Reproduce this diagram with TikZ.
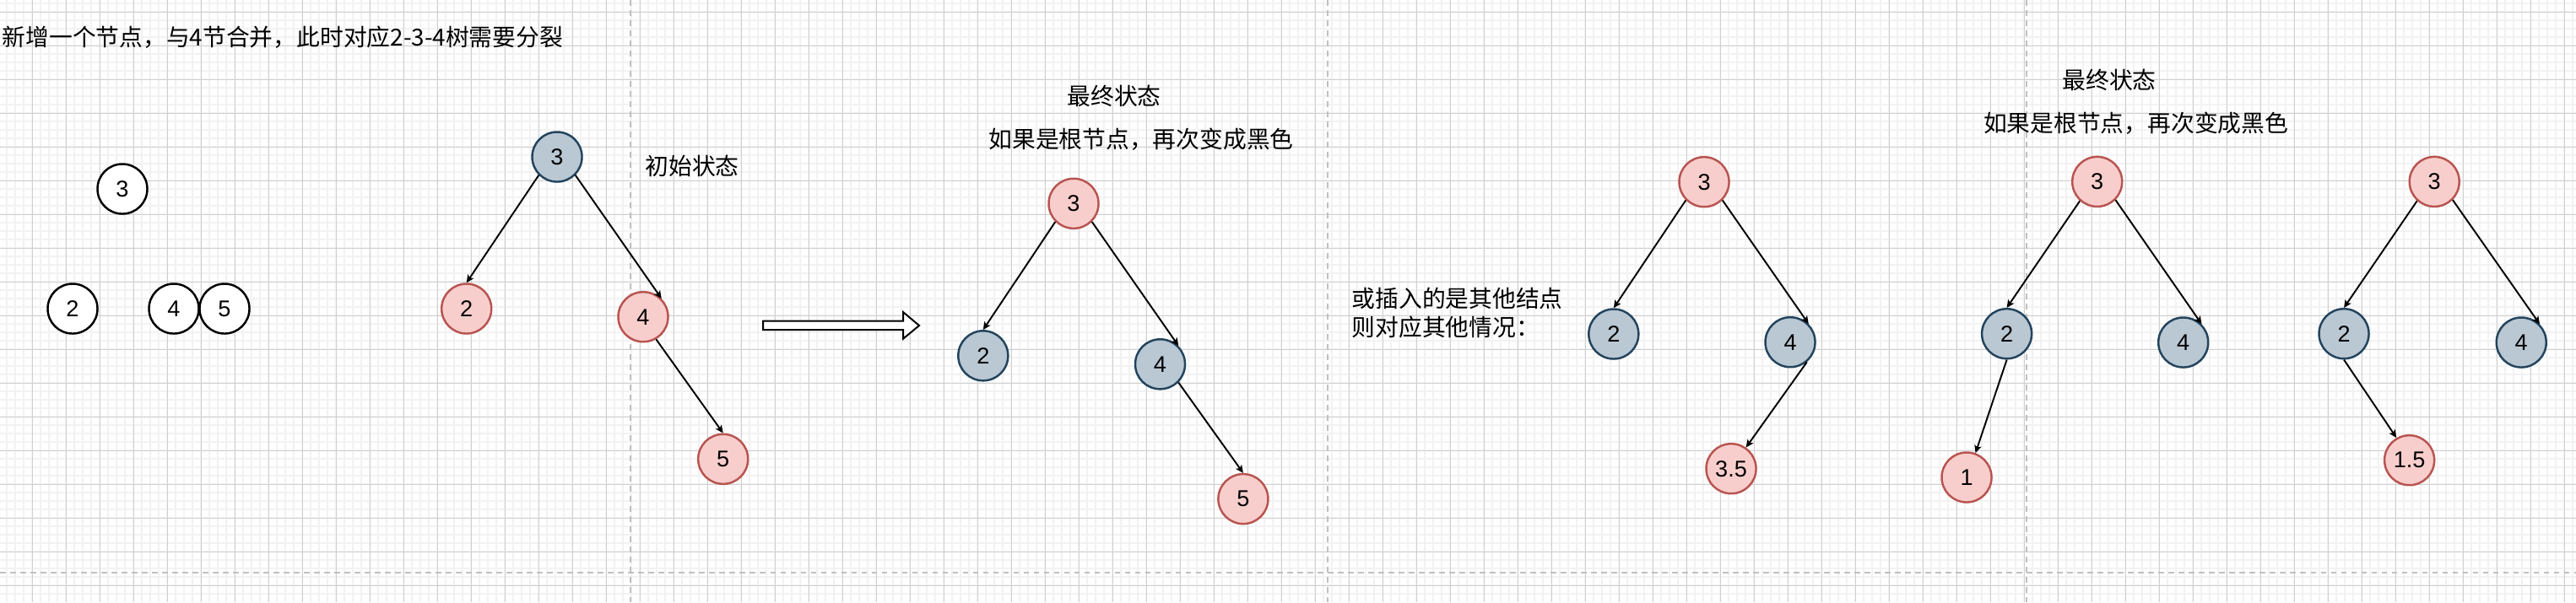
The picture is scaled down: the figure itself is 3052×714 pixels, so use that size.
\documentclass[tikz,border=0pt]{standalone}
\usepackage{fontspec}
\setmainfont{Liberation Sans}
\newfontfamily\cjk{Noto Sans CJK SC}
\usetikzlibrary{arrows.meta}
\definecolor{rbfill}{HTML}{F8CECC}
\definecolor{rbdraw}{HTML}{B85450}
\definecolor{bkfill}{HTML}{BAC8D3}
\definecolor{bkdraw}{HTML}{23445D}
\definecolor{gridminor}{HTML}{F2F2F2}
\definecolor{gridmajor}{HTML}{D0D0D0}
\definecolor{pagebrk}{HTML}{C0C0C0}
\tikzset{
  nd/.style={circle, line width=0.7pt, minimum size=5.9mm, inner sep=0pt,
             font=\fontsize{7.7}{9.2}\selectfont},
  wnode/.style={nd, draw=black, fill=white},
  rnode/.style={nd, draw=rbdraw, fill=rbfill},
  bnode/.style={nd, draw=bkdraw, fill=bkfill},
  ar/.style={-{Stealth[length=2.6pt, width=2.4pt, inset=0.6pt]}, line width=0.55pt},
  lbl/.style={font=\cjk\fontsize{7.9}{9.64}\selectfont, inner sep=0pt},
  brk/.style={draw=pagebrk, line width=0.017cm, dash pattern=on 0.067cm off 0.053cm},
}

\begin{document}
\begin{tikzpicture}[x=0.01cm, y=-0.01cm]
\useasboundingbox (0,0) rectangle (3052,714);

% ---- background grid -----------------------------------------------
\foreach \gx in {8.3,18.3,...,3052} {\draw[gridminor, line width=0.02cm] (\gx,0) -- (\gx,714);}
\foreach \gy in {4.3,14.3,...,714} {\draw[gridminor, line width=0.02cm] (0,\gy) -- (3052,\gy);}
\foreach \gx in {38.3,78.3,...,3052} {\draw[gridmajor, line width=0.01cm] (\gx,0) -- (\gx,714);}
\foreach \gy in {14.3,54.3,...,714} {\draw[gridmajor, line width=0.01cm] (0,\gy) -- (3052,\gy);}

% page breaks
\foreach \px in {746.7,1572.7,2401} {\draw[brk] (\px,0) -- (\px,714);}
\draw[brk] (0,679) -- (3052,679);

% ================= merge into 2-3-4 node =================
\node[lbl, anchor=west] (title) at (2,44)
  {新增一个节点，与4节合并，此时对应2-3-4树需要分裂};

\node[wnode] (k3) at (145,224) {3};
\node[wnode] (k2) at (86,366) {2};
\node[wnode] (k4) at (206,366) {4};
\node[wnode] (k5) at (266,366) {5};

% ================= initial state =================
\node[bnode] (a3) at (660,186) {3};
\node[rnode] (a2) at (552.7,366) {2};
\node[rnode] (a4) at (762,375.7) {4};
\node[rnode] (a5) at (856.7,544.3) {5};
\node[lbl] (init) at (820,197) {初始状态};

\foreach \a/\b in {a3.-135/a2.north, a3.-45/a4.45, a4.-60/a5.north} {\draw[ar] (\a) -- (\b);}

% hollow arrow between the two states
\draw[line width=0.02cm, fill=white, line join=miter]
  (904,380.7) -- (1070,380.7) -- (1070,370) -- (1089,386)
  -- (1070,401.7) -- (1070,391) -- (904,391) -- cycle;

% ================= final state =================
\node[lbl] (fin1) at (1320,113.6) {最终状态};
\node[lbl] (root1) at (1352,164.7) {如果是根节点，再次变成黑色};

\node[rnode] (b3) at (1272,241.3) {3};
\node[bnode] (b2) at (1164.8,421.8) {2};
\node[bnode] (b4) at (1374.5,431.8) {4};
\node[rnode] (b5) at (1472.9,591.6) {5};

\foreach \a/\b in {b3.-135/b2.north, b3.-45/b4.45, b4.-45/b5.north} {\draw[ar] (\a) -- (\b);}

% ================= other inserted keys =================
\node[lbl, anchor=west, align=left] (other) at (1601,371)
  {或插入的是其他结点\\则对应其他情况：};

\node[rnode] (c3) at (2019,215.7) {3};
\node[bnode] (c2) at (1911.8,396) {2};
\node[bnode] (c4) at (2121,405.7) {4};
\node[rnode] (c35) at (2051,555.7) {3.5};

\foreach \a/\b in {c3.-135/c2.north, c3.-45/c4.45, c4.-50/c35.55} {\draw[ar] (\a) -- (\b);}

\node[lbl] (fin2) at (2499,94.6) {最终状态};
\node[lbl] (root2) at (2530.6,145.7) {如果是根节点，再次变成黑色};

\node[rnode] (d3) at (2484.7,215.4) {3};
\node[bnode] (d2) at (2377.6,395.7) {2};
\node[bnode] (d4) at (2586.7,406) {4};
\node[rnode] (d1) at (2330,566) {1};

\foreach \a/\b in {d3.-132/d2.north, d3.-45/d4.45, d2.south/d1.70} {\draw[ar] (\a) -- (\b);}

\node[rnode] (e3) at (2884.2,215.4) {3};
\node[bnode] (e2) at (2777,395.7) {2};
\node[bnode] (e4) at (2987.2,406) {4};
\node[rnode] (e15) at (2854.6,545.7) {1.5};

\foreach \a/\b in {e3.-132/e2.north, e3.-45/e4.45, e2.south/e15.120} {\draw[ar] (\a) -- (\b);}

\end{tikzpicture}
\end{document}
